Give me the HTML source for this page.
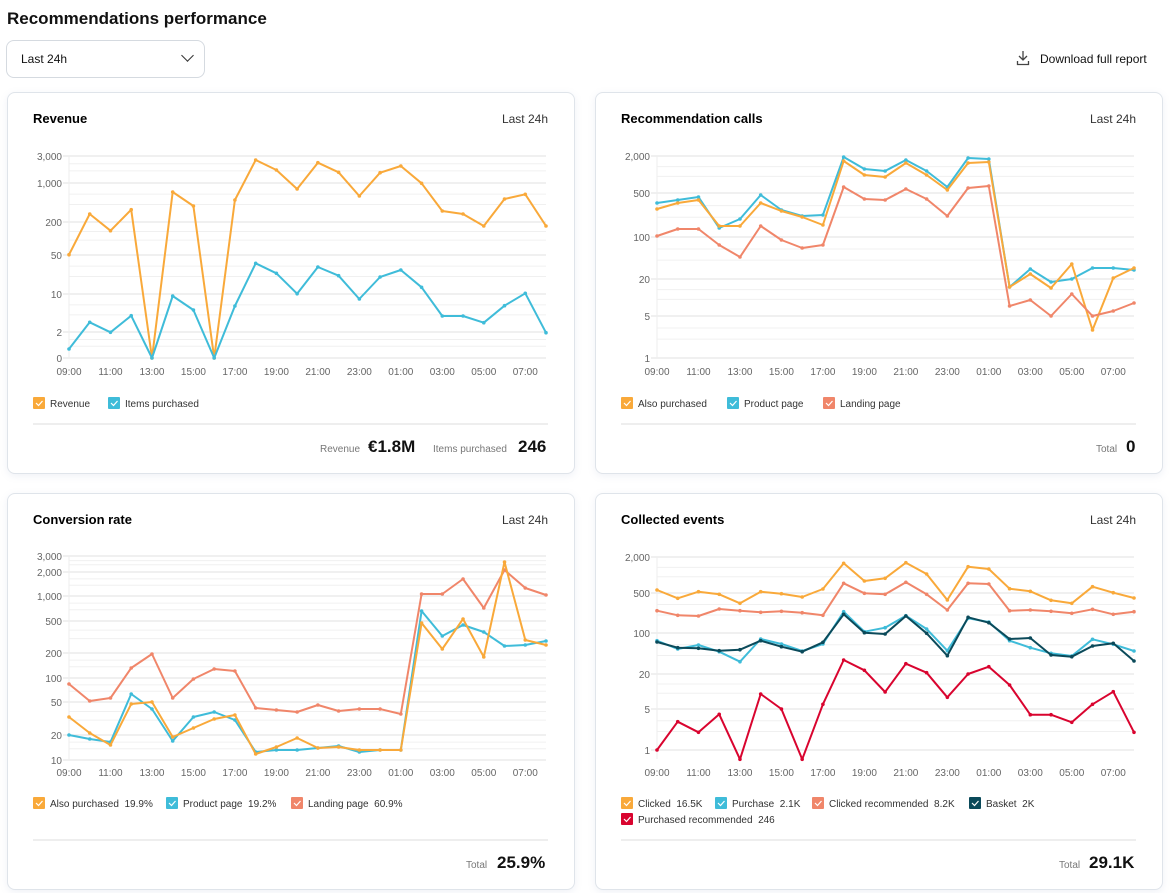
<!DOCTYPE html>
<html><head><meta charset="utf-8"><style>
body{margin:0;width:1171px;height:893px;background:#fff;font-family:"Liberation Sans","DejaVu Sans",sans-serif;position:relative;overflow:hidden;color:#111}
.card{position:absolute;border:1px solid #dfe4ea;border-radius:8px;background:#fff;box-shadow:0 2px 8px rgba(120,140,180,.12)}
svg{position:absolute;left:0;top:0}
</style></head><body>
<div style="position:absolute;left:7px;top:9px;font-size:17px;font-weight:bold">Recommendations performance</div>
<div style="position:absolute;left:6px;top:40px;width:199px;height:38px;border:1px solid #d5dae0;border-radius:8px;box-sizing:border-box"><span style="position:absolute;left:14px;top:11px;font-size:12px">Last 24h</span><span style="position:absolute;right:12px;top:10px;width:8px;height:8px;border-right:1.5px solid #333;border-bottom:1.5px solid #333;transform:rotate(45deg)"></span></div>
<div style="position:absolute;left:1040px;top:52px;font-size:12px">Download full report</div>
<div class="card" style="left:7px;top:92px;width:566px;height:380px"></div>
<div class="card" style="left:595px;top:92px;width:566px;height:380px"></div>
<div class="card" style="left:7px;top:493px;width:566px;height:395px"></div>
<div class="card" style="left:595px;top:493px;width:566px;height:395px"></div>
<svg width="1171" height="893" id="s" style="z-index:2"></svg>
<script>
const S=document.getElementById('s');let h='';
h+='<g stroke="#444" stroke-width="1.3" fill="none"><path d="M1023 51v9M1019 56l4 4 4-4M1017.5 61v3.5h11v-3.5"/></g>';
function txt(x,y,t,o){h+=`<text x="${x}" y="${y}" ${o||''}>${t}</text>`}
function card(ox,oy,title,bot,ticks,xl,xs,series,leg,tot){
 txt(ox+26,oy+31,title,'font-size="13" font-weight="bold"');
 txt(ox+541,oy+31,'Last 24h','font-size="12" fill="#333" text-anchor="end"');
 const x0=ox+62,x1=ox+539,st=(x1-x0)/23;
 for(let i=0;i<ticks.length-1;i++){const a=ticks[i][0],b=ticks[i+1][0];for(let k=1;k<3;k++){const y=a+(b-a)*(1-Math.log10(k+1)/Math.log10(4)*0.9);h+=`<line x1="${x0}" x2="${x1}" y1="${y}" y2="${y}" stroke="#f0f0f0"/>`}}
 ticks.forEach(([y,l])=>{h+=`<line x1="${x0-6}" x2="${x1}" y1="${y}" y2="${y}" stroke="#e0e0e0"/>`;txt(x0-7,y+4,l,'font-size="10" fill="#666" text-anchor="end"')});
 h+=`<line x1="${x0}" x2="${x0}" y1="${ticks[0][0]}" y2="${bot}" stroke="#eee"/>`;
 const labs=['09:00','11:00','13:00','15:00','17:00','19:00','21:00','23:00','01:00','03:00','05:00','07:00'];
 labs.forEach((l,i)=>txt(x0+i*2*st,xl,l,'font-size="10" fill="#666" text-anchor="middle"'));
 series.forEach(([c,ys])=>{const p=ys.map((y,i)=>(x0+i*st).toFixed(1)+','+y).join(' ');h+=`<polyline points="${p}" fill="none" stroke="${c}" stroke-width="2" stroke-linejoin="round"/>`;ys.forEach((y,i)=>h+=`<circle cx="${x0+i*st}" cy="${y}" r="1.8" fill="${c}"/>`)});
 leg.forEach(([x,y,c,l])=>{h+=`<rect x="${x}" y="${y-6}" width="12" height="12" rx="1" fill="${c}"/><path d="M${x+3} ${y} l2.5 2.5 4-4.5" stroke="#fff" stroke-width="1.2" fill="none"/>`;txt(x+17,y+4,l.replace(/  /g,'\u00a0\u00a0'),'font-size="10" fill="#333"')});
 h+=`<line x1="${ox+26}" x2="${ox+541}" y1="${tot[0]}" y2="${tot[0]}" stroke="#ddd"/>`;
 tot[1].forEach(([x,t,b])=>txt(x,tot[0]+28,t,b?'font-size="17" font-weight="bold" fill="#111"':'font-size="10" fill="#777"'));
}
card(7,92,'Revenue',358,[[156,'3,000'],[183,'1,000'],[222,'200'],[255,'50'],[294,'10'],[332,'2'],[358,'0']],375,0,
[['#f9a93a',[254.7,214,230.7,209.7,358,192,206,358,200,160,170,189,162.7,172.3,196,172.7,166,183.3,211,214,226,199,194.3,226]],
 ['#3fbcd9',[349,322.3,332.3,315.7,358,296,310,358,306,263.3,273.3,293.7,267,275.7,299,277,270,287.3,316,316,322.7,305.7,293.3,332.7]]],
[[33,403,'#f9a93a','Revenue'],[108,403,'#3fbcd9','Items purchased']],[424,[[320,'Revenue'],[368,'€1.8M',1],[433,'Items purchased'],[518,'246',1]]]);
card(595,92,'Recommendation calls',358,[[156,'2,000'],[193,'500'],[237,'100'],[279,'20'],[316,'5'],[358,'1']],375,0,
[['#3fbcd9',[203,200,197,228,219,195,210,216,215,157,169,171,160,171,187,158,159,287,269,282,279,268,268,270]],
 ['#f9a93a',[209,203,200,226,226,203,211,217,225,161,175,177,163,175,190,163,162,287,274,288,264,330,278,268]],
 ['#f0866a',[236,229,229,245,257,226,240,248,245,187,199,200,189,199,216,188,186,306,300,316,294,316,311,303]]],
[[621,403,'#f9a93a','Also purchased'],[727,403,'#3fbcd9','Product page'],[823,403,'#f0866a','Landing page']],[424,[[1096,'Total'],[1126,'0',1]]]);
card(7,493,'Conversion rate',760,[[556,'3,000'],[572,'2,000'],[596,'1,000'],[621,'500'],[653,'200'],[678,'100'],[702,'50'],[735,'20'],[760,'10']],776,0,
[['#f0866a',[684,701,698,668,654,698,679,669,671,708,710,712,705,711,709,709,714,594,594,579,608,570,588,595]],
 ['#3fbcd9',[735,739,742,694,709,741,717,712,720,752,750,750,748,746,752,750,750,611,636,625,632,646,645,641]],
 ['#f9a93a',[717,733,745,704,702,737,728,719,715,754,747,738,748,747,750,750,750,623,649,619,657,562,640,645]]],
[[33,803,'#f9a93a','Also purchased  19.9%'],[166,803,'#3fbcd9','Product page  19.2%'],[291,803,'#f0866a','Landing page  60.9%']],[840,[[466,'Total'],[497,'25.9%',1]]]);
card(595,493,'Collected events',759,[[557,'2,000'],[593,'500'],[633,'100'],[674,'20'],[709,'5'],[750,'1']],776,0,
[['#f9a93a',[590,598.3,591.7,594.3,603.3,591.7,593.7,597,589,563.3,581,578.3,562.7,574,600,566.7,569,588.7,591.3,600.3,603.3,586.7,592.7,598]],
 ['#f0866a',[610.7,615.3,616,609,610.7,612.3,611.3,612.7,615.3,583.3,593.3,594.3,582.3,594.3,610,583.3,584,610.7,610,611.3,613.3,609.3,614.3,611.7]],
 ['#3fbcd9',[640.7,649,645,651.7,661.7,639,644,651,644,611.7,631.7,627.7,615.7,629,650.7,618.3,622,640.7,647.7,653.3,656,639.3,644.3,651]],
 ['#0b4a5a',[642,647.7,648.3,650.7,649.7,640.7,646.7,651.7,642.3,614.3,632.7,634,616,633.3,655.7,617.3,622.7,639,638,655,656.7,646,643.3,661]],
 ['#d9042f',[750,721.7,732.3,714.3,759.3,694,709,759.3,704.3,660,670.3,692,663.7,672.7,697.3,674,666.7,685,714.7,714.7,722.3,704.3,691.7,732.3]]],
[[621,803,'#f9a93a','Clicked  16.5K'],[715,803,'#3fbcd9','Purchase  2.1K'],[812,803,'#f0866a','Clicked recommended  8.2K'],[969,803,'#0b4a5a','Basket  2K'],[621,819,'#d9042f','Purchased recommended  246']],[840,[[1059,'Total'],[1089,'29.1K',1]]]);
S.innerHTML=h;S.style.fontFamily='"Liberation Sans",sans-serif';
</script>
</body></html>
